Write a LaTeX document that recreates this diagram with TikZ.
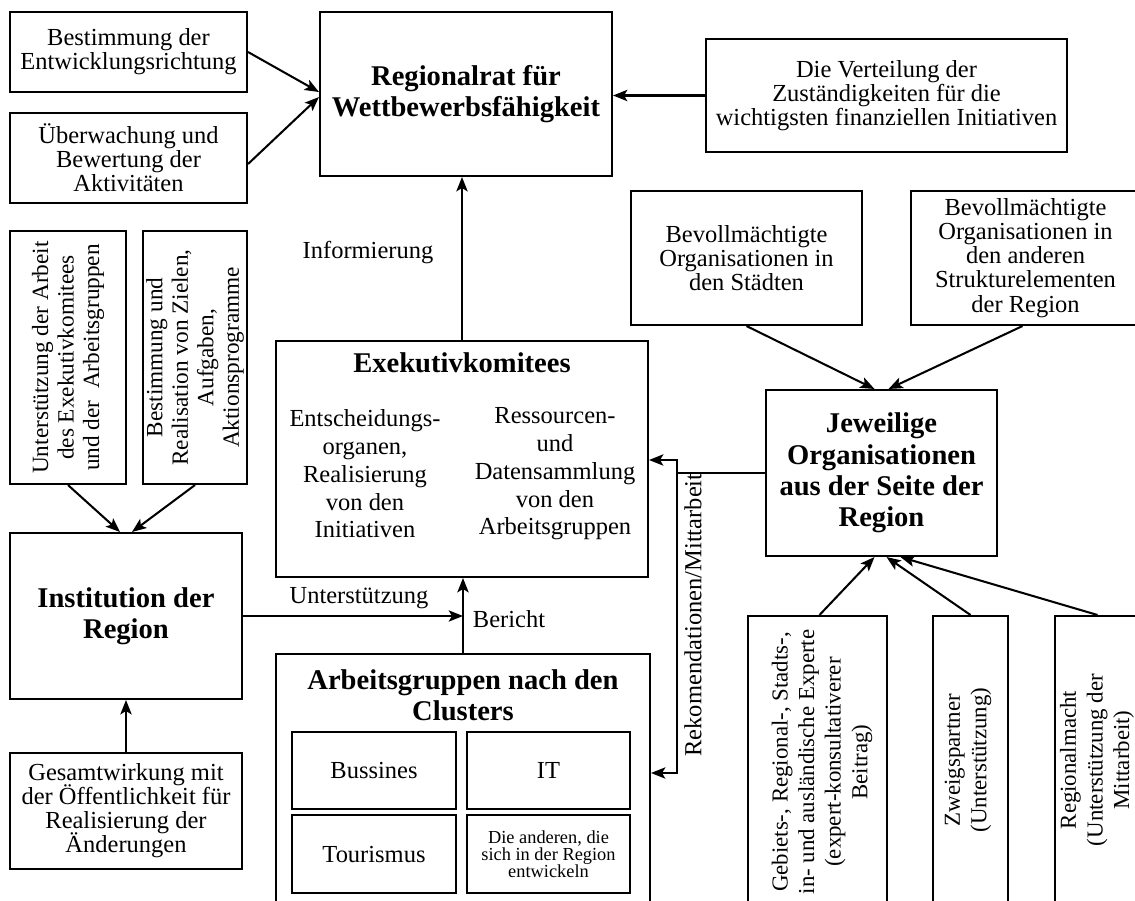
\documentclass[tikz,border=0pt]{standalone}
\usepackage{fontspec}
\setmainfont{Liberation Serif}
\usetikzlibrary{fit,calc,arrows.meta}
\lineskiplimit=-30pt
\begin{document}
\begin{tikzpicture}[x=0.49pt,y=-0.49pt,
  box/.style={draw, line width=1pt, inner sep=0pt},
  txt/.style={align=center, inner sep=0pt, font=\fontsize{12}{11.8}\selectfont},
  txtwide/.style={align=center, inner sep=0pt, font=\fontsize{12}{13.6}\selectfont},
  txtrot/.style={align=center, inner sep=0pt, rotate=90, font=\fontsize{11.4}{12.5}\selectfont},
  txtrotb/.style={align=center, inner sep=0pt, rotate=90, font=\fontsize{11.2}{13}\selectfont},
  txtsmall/.style={align=center, inner sep=0pt, font=\fontsize{9}{8.3}\selectfont},
  ttl/.style={align=center, inner sep=0pt, font=\fontsize{14}{15.4}\selectfont\bfseries},
  conn/.style={line width=1pt},
  arr/.style={line width=1pt, -{Stealth[length=7pt,width=5.5pt,inset=1.6pt]}},
  barr/.style={line width=1pt, {Stealth[length=7pt,width=5.5pt,inset=1.6pt]}-{Stealth[length=7pt,width=5.5pt,inset=1.6pt]}}]
\useasboundingbox (0,0) rectangle (1135,900);
\clip (0,0) rectangle (1135,900);
\fill[white] (0,0) rectangle (1135,900);

% upper left: tasks of the council
\node[box, fit={(10,12) (247,92)}] (bestA) {};
\node[txt] (bestAt) at (bestA.center) {Bestimmung der\\Entwicklungsrichtung};
\node[box, fit={(10,113) (247,203)}] (uebB) {};
\node[txt] (uebBt) at (uebB.center) {Überwachung und\\Bewertung der\\Aktivitäten};

% the council
\node[box, fit={(320,12) (612,176)}] (rat) {};
\node[ttl] (ratt) at (rat.center) {Regionalrat für\\Wettbewerbsfähigkeit};
\node[box, fit={(706,39) (1067,152)}] (vert) {};
\node[txt] (vertt) at (vert.center) {Die Verteilung der\\Zuständigkeiten für die\\wichtigsten finanziellen Initiativen};

\draw[arr] (bestA.east) -- ($(rat.west)+(0,-2)$);
\draw[arr] ($(uebB.east)+(0,6)$) -- ($(rat.west)+(0,3)$);
\draw[arr] (vert.west) -- (vert.west -| rat.east);

% left column: institution of the region
\node[box, fit={(10,231) (126,484)}] (u1) {};
\node[txtrot] (u1t) at (u1.center) {Unterstützung der Arbeit\\des Exekutivkomitees\\und der\ \ Arbeitsgruppen};
\node[box, fit={(143,231) (247,484)}] (u2) {};
\node[txtrot] (u2t) at (u2.center) {Bestimmung und\\Realisation von Zielen,\\Aufgaben,\\Aktionsprogramme};

\node[box, fit={(10,533) (242,699)}] (inst) {};
\node[ttl] (instt) at (inst.center) {Institution der\\Region};
\node[box, fit={(10,753) (242,869)}] (ges) {};
\node[txt] (gest) at (ges.center) {Gesamtwirkung mit\\der Öffentlichkeit für\\Realisierung der\\Änderungen};

\draw[arr] (u1.south) -- ($(inst.north)+(-6,0)$);
\draw[arr] (u2.south) -- ($(inst.north)+(6,0)$);
\draw[arr] (ges.north) -- (inst.south);

% executive committees
\node[box, fit={(276,341) (648,577)}] (exe) {};
\node[ttl] (exet) at (462,363) {Exekutivkomitees};
\node[txtwide] (exel) at (365,474) {Entscheidungs-\\organen,\\Realisierung\\von den\\Initiativen};
\node[txtwide] (exer) at (555,474) {Ressourcen-\\und\\Datensammlung\\von den\\Arbeitsgruppen};

\draw[arr] (exe.north) -- (exe.north |- rat.south);
\node[txt] (inf) at (368,253) {Informierung};

% working groups by clusters
\node[box, fit={(276,654) (650,920)}] (arb) {};
\node[ttl] (arbt) at (463,695) {Arbeitsgruppen nach den\\Clusters};
\node[box, fit={(292,732) (456,809)}] (bus) {};
\node[txt] (bust) at (bus.center) {Bussines};
\node[box, fit={(467,732) (630,809)}] (it) {};
\node[txt] (itt) at (it.center) {IT};
\node[box, fit={(292,815) (456,893)}] (tour) {};
\node[txt] (tourt) at (tour.center) {Tourismus};
\node[box, fit={(467,815) (630,893)}] (andere) {};
\node[txtsmall] (anderet) at (andere.center) {Die anderen, die\\sich in der Region\\entwickeln};

\draw[arr] (arb.north) -- (arb.north |- exe.south);
\coordinate (bj) at (arb.north |- inst.east);
\draw[arr] (inst.east) -- (bj);
\node[txt] (unt) at (359,598) {Unterstützung};
\node[txt] (ber) at (509,619) {Bericht};

% organisations on the side of the region
\node[box, fit={(631,191) (862,325)}] (bev1) {};
\node[txt] (bev1t) at (bev1.center) {Bevollmächtigte\\Organisationen in\\den Städten};
\node[box, fit={(911,191) (1140,325)}] (bev2) {};
\node[txt] (bev2t) at (bev2.center) {Bevollmächtigte\\Organisationen in\\den anderen\\Strukturelementen\\der Region};
\node[box, fit={(766,390) (997,556)}] (jew) {};
\node[ttl] (jewt) at (jew.center) {Jeweilige\\Organisationen\\aus der Seite der\\Region};

\draw[arr] (bev1.south) -- ($(jew.north)+(-7,0)$);
\draw[arr] ($(bev2.south)+(-3,0)$) -- ($(jew.north)+(7,0)$);

% recommendations / cooperation
\coordinate (bt) at (677,460);
\coordinate (bb) at (677,773);
\draw[conn] (jew.west) -- (jew.west -| bt);
\draw[barr] (exe.east |- bt) -- (bt) -- (bb) -- (arb.east |- bb);
\node[txtrot, font=\fontsize{12}{13}\selectfont] (rek) at (693,615) {Rekomendationen/Mittarbeit};

% experts and partners
\node[box, fit={(748,616) (887,920)}] (geb) {};
\node[txtrotb] (gebt) at (822,762) {Gebiets-, Regional-, Stadts-,\\in- und ausländische Experte\\(expert-konsultativerer\\Beitrag)};
\node[box, fit={(933,616) (1008,920)}] (zw) {};
\node[txtrotb] (zwt) at (968,760) {Zweigspartner\\(Unterstützung)};
\node[box, fit={(1055,616) (1140,920)}] (rm) {};
\node[txtrotb] (rmt) at (1097,760) {Regionalmacht\\(Unterstützung der\\Mittarbeit)};

\draw[arr] ($(geb.north)+(2,0)$) -- ($(jew.south)+(-7,0)$);
\draw[arr] (zw.north) -- ($(jew.south)+(5,0)$);
\draw[arr] (rm.north) -- ($(jew.south)+(19,0)$);
\end{tikzpicture}
\end{document}
